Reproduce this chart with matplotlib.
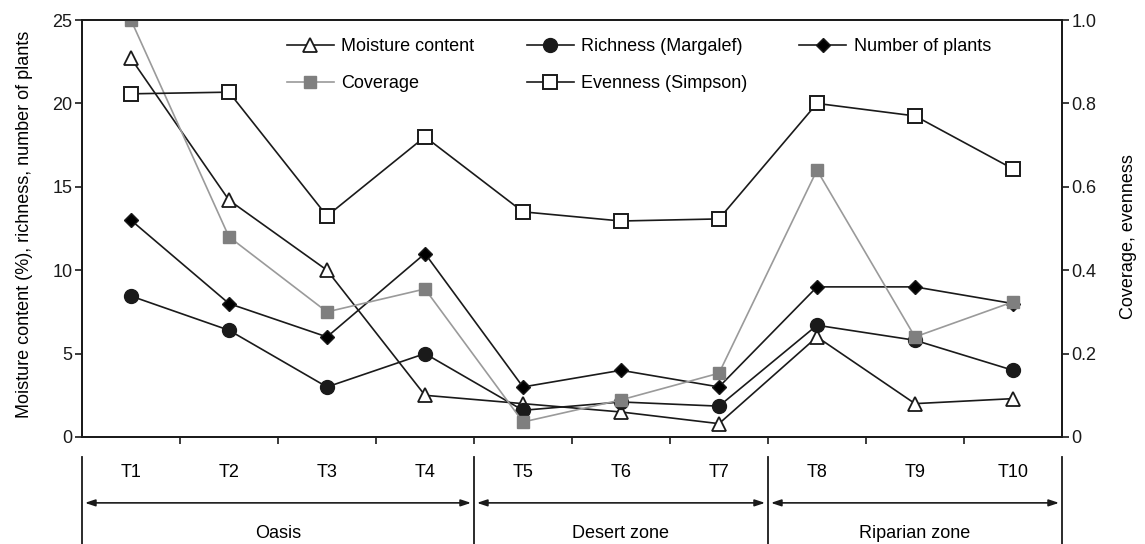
import matplotlib
matplotlib.use("Agg")
import matplotlib.pyplot as plt
import matplotlib.transforms as mtransforms
from matplotlib.lines import Line2D

plt.rcParams["font.family"] = ["Liberation Sans", "DejaVu Sans"]

SITES = ["T1", "T2", "T3", "T4", "T5", "T6", "T7", "T8", "T9", "T10"]
moisture = [22.7, 14.2, 10.0, 2.5, 2.0, 1.5, 0.8, 6.0, 2.0, 2.3]
richness = [8.45, 6.4, 3.0, 5.0, 1.6, 2.1, 1.85, 6.7, 5.8, 4.0]
n_plants = [13.0, 8.0, 6.0, 11.0, 3.0, 4.0, 3.0, 9.0, 9.0, 8.0]
coverage = [1.0, 0.48, 0.30, 0.355, 0.036, 0.089, 0.153, 0.64, 0.24, 0.324]
evenness = [0.823, 0.827, 0.53, 0.72, 0.54, 0.518, 0.523, 0.80, 0.77, 0.643]

ZONES = ["Oasis", "Desert zone", "Riparian zone"]
ZONE_SPANS = [(0.5, 4.5), (4.5, 7.5), (7.5, 10.5)]

x = list(range(1, len(SITES) + 1))
INK = "#1a1a1a"
FS = 13

fig = plt.figure(figsize=(11.45, 5.44), dpi=100)
ax = fig.add_axes([0.0716, 0.1967, 0.8559, 0.7665])
ax2 = ax.twinx()

l_moist, = ax.plot(x, moisture, "-^", color=INK, mfc="white", mec=INK, ms=10, lw=1.2,
                   mew=1.3, label="Moisture content")
l_rich, = ax.plot(x, richness, "-o", color=INK, mfc=INK, ms=10, lw=1.2,
                  label="Richness (Margalef)")
l_np, = ax.plot(x, n_plants, "-D", color=INK, mfc="black", ms=7, lw=1.2,
                label="Number of plants")
l_cov, = ax2.plot(x, coverage, "-s", color="#9a9a9a", mfc="#7f7f7f", mec="#7f7f7f", ms=9,
                  lw=1.2, label="Coverage")
l_even, = ax2.plot(x, evenness, "-s", color=INK, mfc="white", mec=INK, ms=10, lw=1.2,
                   mew=1.4, label="Evenness (Simpson)")

ax.set_xlim(0.5, 10.5)
ax.set_ylim(0, 25)
ax2.set_ylim(0, 1.0)
ax.set_yticks([0, 5, 10, 15, 20, 25])
ax2.set_yticks([0, 0.2, 0.4, 0.6, 0.8, 1.0])
ax2.set_yticklabels(["0", "0.2", "0.4", "0.6", "0.8", "1.0"])
ax.set_xticks([1.5 + i for i in range(9)])
ax.set_xticklabels([])

for a in (ax, ax2):
    a.tick_params(direction="out", length=5, width=1.2, labelsize=FS, colors=INK, pad=2)
    for s in a.spines.values():
        s.set_linewidth(1.3)
        s.set_color(INK)

ax.set_ylabel("Moisture content (%), richness, number of plants", fontsize=FS)
ax.yaxis.set_label_coords(-0.05, 0.51)
ax2.set_ylabel("Coverage, evenness", fontsize=FS)
ax2.yaxis.set_label_coords(1.059, 0.48)

handles = [l_moist, l_cov, l_rich, l_even, l_np]
ax.legend(handles=handles, labels=[h.get_label() for h in handles], ncol=3,
          loc="upper left", bbox_to_anchor=(0.2, 0.978), frameon=False, fontsize=FS,
          borderpad=0, handlelength=2.6, handletextpad=0.4, columnspacing=2.9,
          labelspacing=1.1)

# site / zone table beneath the axis
trans = mtransforms.blended_transform_factory(ax.transData, ax.transAxes)
for xv in [0.5, 4.5, 7.5, 10.5]:
    ax.add_line(Line2D([xv, xv], [-0.048, -0.26], transform=trans, color=INK, lw=1.3,
                       clip_on=False))
for xi, lab in zip(x, SITES):
    ax.text(xi, -0.086, lab, transform=trans, ha="center", va="center", fontsize=FS)
for (x0, x1), zone in zip(ZONE_SPANS, ZONES):
    ax.annotate("", xy=(x0 + 0.03, -0.158), xytext=(x1 - 0.03, -0.158),
                xycoords=trans, textcoords=trans,
                arrowprops=dict(arrowstyle="<|-|>,head_length=0.6,head_width=0.2",
                                color=INK, lw=1.2, shrinkA=0, shrinkB=0))
    ax.text((x0 + x1) / 2, -0.232, zone, transform=trans, ha="center", va="center",
            fontsize=FS)

fig.savefig("out.png", dpi=100)
